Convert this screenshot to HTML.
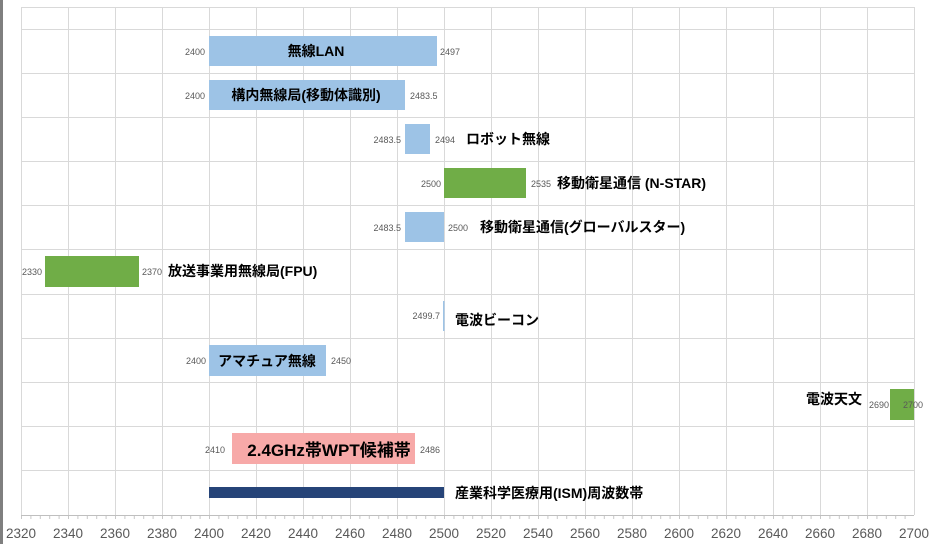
<!DOCTYPE html>
<html><head><meta charset="utf-8"><style>
body{margin:0;background:#fff;}
svg{display:block;font-family:"Liberation Sans","Noto Sans CJK JP",sans-serif;}
.v{font-size:9px;fill:#595959;}
.l{font-size:14px;font-weight:bold;fill:#000;}
.t{font-size:13.5px;fill:#595959;}
</style></head><body>
<svg width="944" height="544" viewBox="0 0 944 544">
<rect x="0" y="0" width="3" height="544" fill="#7f7f7f"/>
<g stroke="#d9d9d9" stroke-width="1">
<line x1="21" y1="7.5" x2="914" y2="7.5"/>
<line x1="21" y1="29.5" x2="914" y2="29.5"/>
<line x1="21" y1="73.5" x2="914" y2="73.5"/>
<line x1="21" y1="117.5" x2="914" y2="117.5"/>
<line x1="21" y1="161.5" x2="914" y2="161.5"/>
<line x1="21" y1="205.5" x2="914" y2="205.5"/>
<line x1="21" y1="249.5" x2="914" y2="249.5"/>
<line x1="21" y1="294.5" x2="914" y2="294.5"/>
<line x1="21" y1="338.5" x2="914" y2="338.5"/>
<line x1="21" y1="382.5" x2="914" y2="382.5"/>
<line x1="21" y1="426.5" x2="914" y2="426.5"/>
<line x1="21" y1="470.5" x2="914" y2="470.5"/>
<line x1="21.5" y1="7" x2="21.5" y2="515"/>
<line x1="68.5" y1="7" x2="68.5" y2="515"/>
<line x1="115.5" y1="7" x2="115.5" y2="515"/>
<line x1="162.5" y1="7" x2="162.5" y2="515"/>
<line x1="209.5" y1="7" x2="209.5" y2="515"/>
<line x1="256.5" y1="7" x2="256.5" y2="515"/>
<line x1="303.5" y1="7" x2="303.5" y2="515"/>
<line x1="350.5" y1="7" x2="350.5" y2="515"/>
<line x1="397.5" y1="7" x2="397.5" y2="515"/>
<line x1="444.5" y1="7" x2="444.5" y2="515"/>
<line x1="491.5" y1="7" x2="491.5" y2="515"/>
<line x1="538.5" y1="7" x2="538.5" y2="515"/>
<line x1="585.5" y1="7" x2="585.5" y2="515"/>
<line x1="632.5" y1="7" x2="632.5" y2="515"/>
<line x1="679.5" y1="7" x2="679.5" y2="515"/>
<line x1="726.5" y1="7" x2="726.5" y2="515"/>
<line x1="773.5" y1="7" x2="773.5" y2="515"/>
<line x1="820.5" y1="7" x2="820.5" y2="515"/>
<line x1="867.5" y1="7" x2="867.5" y2="515"/>
<line x1="914.5" y1="7" x2="914.5" y2="515"/>
</g>
<line x1="21" y1="515.5" x2="914" y2="515.5" stroke="#bfbfbf"/>
<line x1="21" y1="517.5" x2="914" y2="517.5" stroke="#c8c8c8" stroke-dasharray="1 8.4" stroke-width="3"/>

<!-- bars -->
<rect x="209" y="36" width="228" height="30" fill="#9dc3e6"/>
<rect x="209" y="80" width="196" height="30" fill="#9dc3e6"/>
<rect x="405" y="124" width="25" height="30" fill="#9dc3e6"/>
<rect x="444" y="168" width="82" height="30" fill="#70ad47"/>
<rect x="405" y="212" width="39" height="30" fill="#9dc3e6"/>
<rect x="45" y="256" width="94" height="31" fill="#70ad47"/>
<rect x="443" y="301" width="1.5" height="30" fill="#9dc3e6"/>
<rect x="209" y="345" width="117" height="31" fill="#9dc3e6"/>
<rect x="890" y="389" width="24" height="31" fill="#70ad47"/>
<rect x="232" y="433" width="183" height="31" fill="#f7a9a8"/>
<rect x="209" y="487" width="235" height="11" fill="#264478"/>

<!-- value labels -->
<text class="v" x="205" y="55" text-anchor="end">2400</text>
<text class="v" x="440" y="55">2497</text>
<text class="v" x="205" y="99" text-anchor="end">2400</text>
<text class="v" x="410" y="99">2483.5</text>
<text class="v" x="401" y="143" text-anchor="end">2483.5</text>
<text class="v" x="435" y="143">2494</text>
<text class="v" x="441" y="187" text-anchor="end">2500</text>
<text class="v" x="531" y="187">2535</text>
<text class="v" x="401" y="231" text-anchor="end">2483.5</text>
<text class="v" x="448" y="231">2500</text>
<text class="v" x="42" y="275" text-anchor="end">2330</text>
<text class="v" x="142" y="275">2370</text>
<text class="v" x="440" y="319" text-anchor="end">2499.7</text>
<text class="v" x="206" y="364" text-anchor="end">2400</text>
<text class="v" x="331" y="364">2450</text>
<text class="v" x="869" y="408">2690</text>
<text class="v" x="903" y="408">2700</text>
<text class="v" x="225" y="453" text-anchor="end">2410</text>
<text class="v" x="420" y="453">2486</text>

<!-- category labels -->
<text class="l" x="316" y="56" text-anchor="middle">無線LAN</text>
<text class="l" x="306" y="100" text-anchor="middle">構内無線局(移動体識別)</text>
<text class="l" x="466" y="144">ロボット無線</text>
<text class="l" x="557" y="188">移動衛星通信 (N-STAR)</text>
<text class="l" x="480" y="232">移動衛星通信(グローバルスター)</text>
<text class="l" x="168" y="276">放送事業用無線局(FPU)</text>
<text class="l" x="455" y="325">電波ビーコン</text>
<text class="l" x="267" y="366" text-anchor="middle">アマチュア無線</text>
<text class="l" x="862" y="404" text-anchor="end">電波天文</text>
<text class="l" x="329" y="456" text-anchor="middle" style="font-size:17px">2.4GHz帯WPT候補帯</text>
<text class="l" x="455" y="498">産業科学医療用(ISM)周波数帯</text>

<!-- axis tick labels -->
<g class="t" text-anchor="middle">
<text x="21" y="538">2320</text><text x="68" y="538">2340</text><text x="115" y="538">2360</text>
<text x="162" y="538">2380</text><text x="209" y="538">2400</text><text x="256" y="538">2420</text>
<text x="303" y="538">2440</text><text x="350" y="538">2460</text><text x="397" y="538">2480</text>
<text x="444" y="538">2500</text><text x="491" y="538">2520</text><text x="538" y="538">2540</text>
<text x="585" y="538">2560</text><text x="632" y="538">2580</text><text x="679" y="538">2600</text>
<text x="726" y="538">2620</text><text x="773" y="538">2640</text><text x="820" y="538">2660</text>
<text x="867" y="538">2680</text><text x="914" y="538">2700</text>
</g>
</svg>
</body></html>
